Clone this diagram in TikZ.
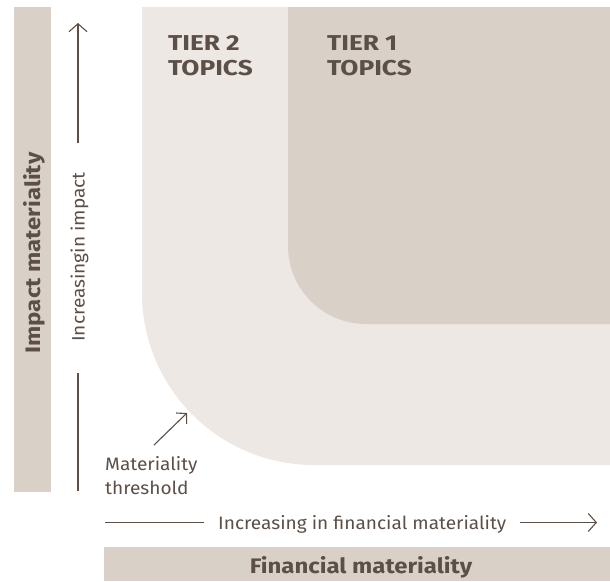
\documentclass[tikz,border=0pt]{standalone}
\usepackage{fontspec}
\setmainfont{Fira Sans}[FakeStretch=1.06]
\newfontfamily\boldwide{Fira Sans}[FakeStretch=1.14]
\newfontfamily\tierwide{Fira Sans}[FakeStretch=1.22]
\usetikzlibrary{arrows.meta}
\definecolor{lightreg}{HTML}{EDE8E4}
\definecolor{darkreg}{HTML}{D9D0C7}
\definecolor{ink}{HTML}{5B4F47}
\tikzset{
  lbl/.style={text=ink, inner sep=0pt, font=\fontsize{18}{21}\selectfont},
  bold lbl/.style={text=ink, inner sep=0pt, font=\boldwide\fontsize{21}{24}\selectfont\bfseries},
  tier/.style={text=ink, inner sep=0pt, anchor=base west, font=\tierwide\fontsize{21.5}{25}\selectfont\bfseries},
  axisline/.style={draw=ink, line width=1.1pt},
  axisarrow/.style={draw=ink, line width=1.1pt, -{Straight Barb[length=8pt,width=18pt,line width=1.1pt]}},
}
\begin{document}
\begin{tikzpicture}[x=1pt,y=1pt]
\useasboundingbox (0,0) rectangle (610,-581);
% regions
\fill[lightreg] (142,-7) -- (610,-7) -- (610,-465) -- (314,-465)
   arc[start angle=270,end angle=180,radius=172] -- cycle;
\fill[darkreg] (288,-7) -- (610,-7) -- (610,-324) -- (366,-324)
   arc[start angle=270,end angle=180,radius=78] -- cycle;
% bars
\fill[darkreg] (14,-7) rectangle (51,-492);
\fill[darkreg] (104,-547) rectangle (610,-581);
% tier labels
\node[tier] (t2a) at (168,-50) {TIER 2};
\node[tier] (t2b) at (168,-75) {TOPICS};
\node[tier] (t1a) at (327,-50) {TIER 1};
\node[tier] (t1b) at (327,-75) {TOPICS};
% bar labels
\node[bold lbl, rotate=90, anchor=base] (impact) at (40,-253) {Impact materiality};
\node[bold lbl, anchor=base] (fin) at (361,-573) {Financial materiality};
% vertical axis
\node[lbl, rotate=90, anchor=base] (vlab) at (84.5,-257) {Increasingin impact};
\coordinate (vup) at (78,-143);
\coordinate (vtop) at (78,-23);
\coordinate (vdown) at (78,-373);
\coordinate (vbot) at (78,-491);
\draw[axisarrow] (vup) -- (vtop);
\draw[axisline] (vdown) -- (vbot);
% horizontal axis
\node[lbl, anchor=base west] (hlab) at (218,-529) {Increasing in financial materiality};
\coordinate (hleft) at (105,-522.5);
\coordinate (hlin) at (204,-522.5);
\coordinate (hrin) at (520,-522.5);
\coordinate (hright) at (597,-522.5);
\draw[axisline] (hleft) -- (hlin);
\draw[axisarrow] (hrin) -- (hright);
% threshold
\node[lbl, anchor=base west] (thr1) at (105,-470) {Materiality};
\node[lbl, anchor=base west] (thr2) at (105,-494) {threshold};
\coordinate (thrtail) at (154,-445);
\coordinate (thrtip) at (187,-413);
\draw[draw=ink, line width=1.1pt, -{Straight Barb[length=7pt,width=15pt,line width=1.1pt]}] (thrtail) -- (thrtip);
\end{tikzpicture}
\end{document}
